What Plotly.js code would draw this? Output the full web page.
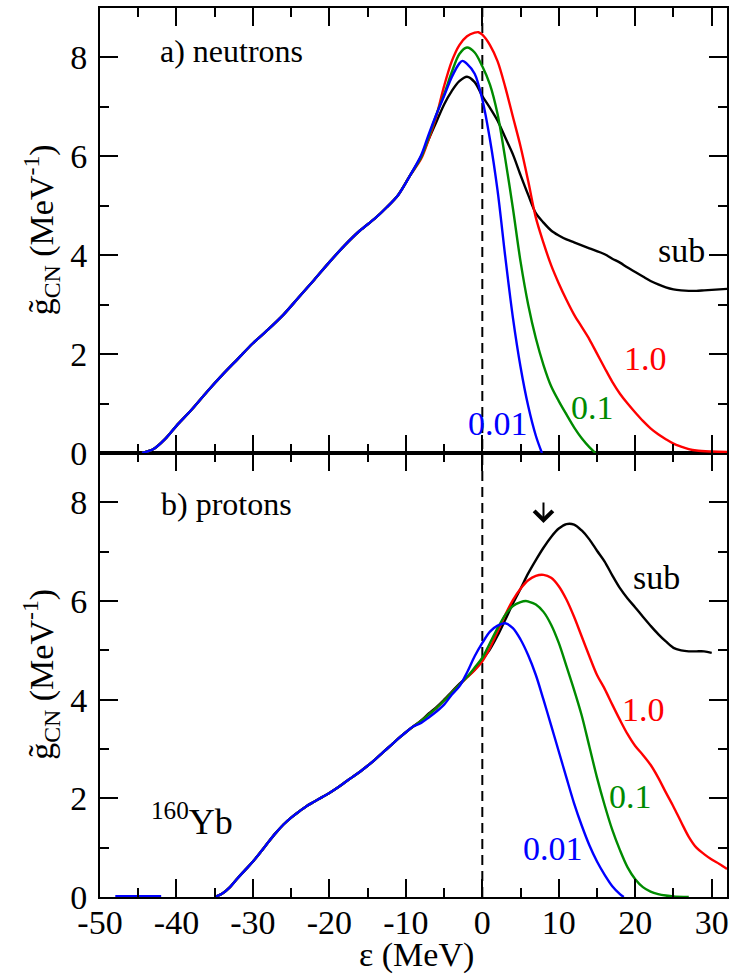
<!DOCTYPE html>
<html>
<head>
<meta charset="utf-8">
<script src="https://cdn.plot.ly/plotly-3.0.1.min.js"></script>
<style>html,body{margin:0;padding:0;background:#fff;}</style>
</head>
<body>
<div id="chart" style="width:733px;height:975px;"></div>
<script>
// ---------- DATA: panel a) neutrons ----------
const xCommonA = [-44.5, -43, -41.5, -40, -38, -36, -34, -32, -30, -28, -26, -24, -22, -20, -18, -16, -14, -12.5, -11, -9.5];
const yCommonA = [0, 0.08, 0.28, 0.55, 0.88, 1.24, 1.58, 1.90, 2.22, 2.50, 2.80, 3.15, 3.50, 3.86, 4.20, 4.50, 4.75, 4.97, 5.22, 5.60];

const xSubA = [-8, -7, -6, -5, -4, -3, -2, -1, 0, 1, 2, 3, 4, 5, 6, 7, 8, 9, 10, 11, 12, 13, 14, 16, 17, 18, 19, 20, 21, 22, 23, 24, 25, 26, 27, 28, 29, 30, 31, 32];
const ySubA = [6.0, 6.35, 6.7, 7.05, 7.32, 7.52, 7.61, 7.5, 7.22, 6.98, 6.72, 6.38, 6.04, 5.62, 5.22, 4.85, 4.66, 4.50, 4.40, 4.32, 4.26, 4.20, 4.14, 4.02, 3.93, 3.85, 3.75, 3.66, 3.57, 3.48, 3.41, 3.35, 3.31, 3.29, 3.28, 3.28, 3.29, 3.30, 3.31, 3.32];

const x10A = [-8, -7, -6, -5, -4, -3, -2, -1, -0.5, 0, 1, 2, 3, 4, 5, 6, 7, 8, 9, 10, 11, 12, 13, 14, 15, 16, 17, 18, 19, 20, 21, 22, 23, 24, 25, 26, 27, 28, 30, 32];
const y10A = [5.95, 6.35, 6.82, 7.42, 7.92, 8.25, 8.43, 8.5, 8.51, 8.46, 8.25, 7.92, 7.4, 6.8, 6.2, 5.5, 4.76, 4.25, 3.8, 3.43, 3.1, 2.8, 2.55, 2.3, 2.01, 1.72, 1.44, 1.2, 1.0, 0.82, 0.65, 0.5, 0.38, 0.28, 0.19, 0.13, 0.08, 0.05, 0.03, 0.02];

const x01A = [-8, -7, -6, -5, -4, -3, -2, -1, 0, 1, 2, 3, 4, 5, 6, 7, 8, 9, 10, 11, 12, 13, 14, 14.8];
const y01A = [5.98, 6.4, 6.85, 7.25, 7.7, 8.07, 8.2, 8.1, 7.82, 7.45, 6.85, 5.95, 4.95, 3.87, 3.0, 2.32, 1.78, 1.35, 1.05, 0.78, 0.52, 0.3, 0.12, 0.0];

const x001A = [-8, -7, -6, -5, -4, -3, -2.6, -2, -1, 0, 1, 2, 3, 4, 5, 6, 7, 7.8];
const y001A = [6.02, 6.45, 6.85, 7.22, 7.6, 7.88, 7.93, 7.87, 7.67, 7.15, 6.34, 5.3, 3.97, 2.74, 1.74, 0.95, 0.35, 0.0];

// ---------- DATA: panel b) protons ----------
const xCommonB = [-35, -34, -33, -32, -31, -30, -29, -28, -27, -26, -25, -24, -23, -22, -21, -20, -19, -18, -17, -16, -15, -14, -13, -12, -11, -10, -9];
const yCommonB = [0, 0.07, 0.2, 0.38, 0.55, 0.72, 0.91, 1.11, 1.3, 1.47, 1.61, 1.73, 1.84, 1.93, 2.02, 2.11, 2.21, 2.32, 2.43, 2.54, 2.66, 2.79, 2.93, 3.07, 3.21, 3.34, 3.46];

const xSubB = [-8, -7, -6, -5, -4, -3, -2, -1, 0, 1, 2, 3, 4, 5, 6, 7, 8, 9, 10, 11, 12, 13, 14, 15, 16, 17, 18, 19, 20, 21, 22, 23, 24, 25, 26, 27, 28, 29, 30];
const ySubB = [3.58, 3.72, 3.85, 4.0, 4.16, 4.32, 4.46, 4.61, 4.81, 5.02, 5.3, 5.62, 5.95, 6.25, 6.56, 6.83, 7.08, 7.3, 7.47, 7.56, 7.55, 7.43, 7.25, 7.02, 6.8, 6.52, 6.26, 6.05, 5.87, 5.68, 5.5, 5.33, 5.18, 5.05, 5.0, 4.98, 4.98, 4.98, 4.95];

const x10B = [-8, -7, -6, -5, -4, -3, -2, -1, 0, 1, 2, 3, 4, 5, 6, 7, 8, 9, 10, 11, 12, 13, 14, 15, 16, 17, 18, 19, 20, 21, 22, 23, 24, 25, 26, 27, 28, 29, 30, 31, 32];
const y10B = [3.57, 3.7, 3.83, 3.98, 4.14, 4.3, 4.45, 4.6, 4.78, 5.05, 5.38, 5.72, 6.02, 6.25, 6.42, 6.51, 6.53, 6.47, 6.3, 6.03, 5.68, 5.28, 4.88, 4.5, 4.22, 3.9, 3.59, 3.3, 3.06, 2.88, 2.68, 2.42, 2.12, 1.83, 1.52, 1.22, 1.0, 0.87, 0.76, 0.67, 0.57];

const x01B = [-8, -7, -6, -5, -4, -3, -2, -1, 0, 1, 2, 3, 4, 5, 5.7, 6, 7, 8, 9, 10, 11, 12, 13, 14, 15, 16, 17, 18, 19, 20, 21, 22, 23, 24, 25, 27];
const y01B = [3.57, 3.7, 3.83, 3.98, 4.14, 4.3, 4.46, 4.65, 4.85, 5.15, 5.45, 5.72, 5.9, 5.98, 6.0, 5.99, 5.93, 5.78, 5.52, 5.15, 4.68, 4.2, 3.68, 3.05, 2.42, 1.86, 1.36, 0.95, 0.6, 0.36, 0.2, 0.11, 0.06, 0.03, 0.01, 0.0];

const xTailB = [-48, -42];
const yTailB = [0.015, 0.015];
const x001B = [-8, -7, -6, -5, -4, -3, -2, -1, 0, 1, 2, 3, 4, 5, 6, 7, 8, 9, 10, 11, 12, 13, 14, 15, 16, 17, 18, 18.5];
const y001B = [3.53, 3.64, 3.76, 3.9, 4.1, 4.27, 4.55, 4.88, 5.15, 5.38, 5.5, 5.55, 5.45, 5.22, 4.9, 4.5, 4.0, 3.48, 2.95, 2.42, 1.9, 1.45, 1.05, 0.72, 0.45, 0.22, 0.06, 0.0];

// ---------- labels / ticks ----------
const xTickVals = [-50, -40, -30, -20, -10, 0, 10, 20, 30];
const xTickText = ['-50', '-40', '-30', '-20', '-10', '0', '10', '20', '30'];
const yTickVals = [0, 2, 4, 6, 8];
const seriesNames = ['sub', '1.0', '0.1', '0.01'];
const seriesColors = ['#000000', '#ff0000', '#008b00', '#0000ff'];
const refLineX = 0;
const arrowX = 8, arrowY = 7.58;

// ---------- build traces ----------
function tr(x, y, color, xa, ya) {
  return {x: x, y: y, xaxis: xa, yaxis: ya, type: 'scatter', mode: 'lines',
          line: {color: color, width: 2.4, shape: 'spline', smoothing: 0.9},
          hoverinfo: 'skip', showlegend: false};
}
const traces = [
  tr(xCommonA.concat(xSubA), yCommonA.concat(ySubA), seriesColors[0], 'x2', 'y2'),
  tr(xCommonA.concat(x10A), yCommonA.concat(y10A), seriesColors[1], 'x2', 'y2'),
  tr(xCommonA.concat(x01A), yCommonA.concat(y01A), seriesColors[2], 'x2', 'y2'),
  tr(xCommonA.concat(x001A), yCommonA.concat(y001A), seriesColors[3], 'x2', 'y2'),
  tr(xCommonB.concat(xSubB), yCommonB.concat(ySubB), seriesColors[0], 'x', 'y'),
  tr(xCommonB.concat(x10B), yCommonB.concat(y10B), seriesColors[1], 'x', 'y'),
  tr(xCommonB.concat(x01B), yCommonB.concat(y01B), seriesColors[2], 'x', 'y'),
  tr(xTailB.concat([null], xCommonB, x001B), yTailB.concat([null], yCommonB, y001B), seriesColors[3], 'x', 'y')
];

const FONT = 'Liberation Serif';
function yax(domain, anchor) {
  return {domain: domain, anchor: anchor, range: [0, 9], tickmode: 'array', tickvals: yTickVals,
    ticks: 'inside', ticklen: 18, tickwidth: 2, tickcolor: '#000',
    minor: {tickmode: 'linear', tick0: 0, dtick: 1, ticks: 'inside', ticklen: 9, tickwidth: 2, tickcolor: '#000'},
    showline: true, linewidth: 2, linecolor: '#000', mirror: 'allticks',
    showgrid: false, zeroline: false, automargin: false, ticklabelstandoff: 4,
    tickfont: {family: FONT, size: 34, color: '#000'}};
}
function xax(anchor, labels) {
  return {anchor: anchor, range: [-50, 32], tickmode: 'array', tickvals: xTickVals, ticktext: xTickText,
    ticks: 'inside', ticklen: 18, tickwidth: 2, tickcolor: '#000',
    minor: {tickmode: 'linear', tick0: -50, dtick: 5, ticks: 'inside', ticklen: 9, tickwidth: 2, tickcolor: '#000'},
    showline: true, linewidth: 2, linecolor: '#000', mirror: 'allticks',
    showgrid: false, zeroline: false, automargin: false, showticklabels: labels, ticklabelstandoff: -6,
    tickfont: {family: FONT, size: 34, color: '#000'}};
}
const xa1 = xax('y', true);
const xa2 = xax('y2', false);
xa2.matches = 'x';

function lab(text, x, y, color, xr, yr, size) {
  return {text: text, x: x, y: y, xref: xr, yref: yr, showarrow: false,
          font: {family: FONT, size: size || 34, color: color}, xanchor: 'center', yanchor: 'middle'};
}
const ytitle = 'g\u0303<sub>CN</sub> (MeV<sup>-1</sup>)';
const ytA = lab(ytitle, -0.094, 0.75, '#000', 'paper', 'paper', 34); ytA.textangle = -90;
const ytB = lab(ytitle, -0.094, 0.25, '#000', 'paper', 'paper', 34); ytB.textangle = -90;
const annotations = [
  lab('a) neutrons', -32.8, 8.13, '#000', 'x2', 'y2', 32),
  lab(seriesNames[0], 26.0, 4.1, seriesColors[0], 'x2', 'y2'),
  lab(seriesNames[1], 21.3, 1.91, seriesColors[1], 'x2', 'y2'),
  lab(seriesNames[2], 14.4, 0.93, seriesColors[2], 'x2', 'y2'),
  lab(seriesNames[3], 2.0, 0.59, seriesColors[3], 'x2', 'y2'),
  lab('b) protons', -33.5, 7.96, '#000', 'x', 'y', 32),
  lab(seriesNames[0], 22.8, 6.47, seriesColors[0], 'x', 'y'),
  lab(seriesNames[1], 21.1, 3.80, seriesColors[1], 'x', 'y'),
  lab(seriesNames[2], 19.4, 2.03, seriesColors[2], 'x', 'y'),
  lab(seriesNames[3], 9.2, 0.98, seriesColors[3], 'x', 'y'),
  lab('<sup>160</sup>Yb', -38.0, 1.58, '#000', 'x', 'y', 36),
  lab('\u03b5 (MeV)', 0.504, -0.065, '#000', 'paper', 'paper', 34),
  ytA, ytB,
  {x: arrowX, y: arrowY, xref: 'x', yref: 'y', text: '', showarrow: true, ax: 0, ay: -22,
   arrowhead: 4, arrowsize: 1.8, arrowwidth: 2, arrowcolor: '#000'}
];

const layout = {
  width: 733, height: 975,
  margin: {l: 100, r: 6, t: 8, b: 78, pad: 0},
  paper_bgcolor: '#fff', plot_bgcolor: 'rgba(0,0,0,0)',
  showlegend: false,
  font: {family: FONT, size: 34, color: '#000'},
  xaxis: xa1, xaxis2: xa2,
  yaxis: yax([0, 0.4994], 'x'),
  yaxis2: yax([0.4994, 1], 'x2'),
  shapes: [{type: 'line', xref: 'x', yref: 'paper', x0: refLineX, x1: refLineX, y0: 0, y1: 1,
            layer: 'below', line: {color: '#000', width: 2, dash: '10px,6px'}}],
  annotations: annotations
};

Plotly.newPlot('chart', traces, layout, {staticPlot: true, displayModeBar: false});
</script>
</body>
</html>
